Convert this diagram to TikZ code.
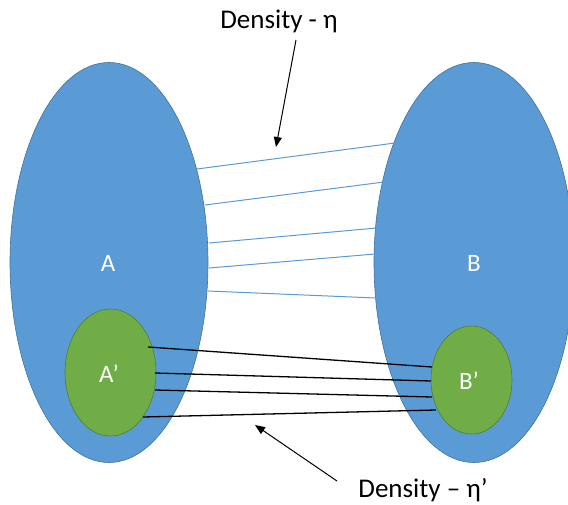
\documentclass[tikz,border=0pt]{standalone}
\usepackage{fontspec}
\setmainfont{Carlito}
\usetikzlibrary{arrows.meta,shapes.geometric}
\definecolor{setblue}{HTML}{5B9BD5}
\definecolor{setblueedge}{HTML}{41719C}
\definecolor{subgreen}{HTML}{70AD47}
\definecolor{subgreenedge}{HTML}{507E32}
\tikzset{
  bigset/.style={ellipse, fill=setblue, draw=setblueedge, line width=0.6pt, minimum width=198pt, minimum height=400pt, inner sep=0pt},
  subset/.style={ellipse, fill=subgreen, draw=subgreenedge, line width=0.6pt, inner sep=0pt},
  setlabel/.style={text=white, font=\fontsize{25}{28}\selectfont, inner sep=0pt},
  caption/.style={font=\fontsize{27}{30}\selectfont, inner sep=0pt, anchor=base},
  bluelink/.style={draw=setblue, line width=1pt},
  blacklink/.style={draw=black, line width=1.3pt},
  pointer/.style={draw=black, line width=1pt, -{Triangle[length=10pt,width=8pt]}},
}
\begin{document}
\begin{tikzpicture}[x=1pt,y=-1pt]
\useasboundingbox (0,0) rectangle (568,504);
\node[bigset] (A) at (109,262.5) {};
\node[bigset, minimum width=200pt] (B) at (474,262.5) {};
\node[subset, minimum width=91pt, minimum height=127pt] (Ap) at (110.5,372.5) {};
\node[subset, minimum width=81pt, minimum height=108pt] (Bp) at (471.5,380) {};
\node[setlabel] (Alab) at (108,263) {A};
\node[setlabel] (Blab) at (474,263) {B};
\node[setlabel] (Aplab) at (109,374) {A’};
\node[setlabel] (Bplab) at (469,381) {B’};
% blue links
\coordinate (a1) at (197,169); \coordinate (b1) at (395,143);
\coordinate (a2) at (205,205); \coordinate (b2) at (384,182);
\coordinate (a3) at (209,243); \coordinate (b3) at (377,228);
\coordinate (a4) at (209,268); \coordinate (b4) at (375,254);
\coordinate (a5) at (208,291); \coordinate (b5) at (376,298);
\foreach \i in {1,...,5} \draw[bluelink] (a\i) -- (b\i);
% black links
\coordinate (c1) at (148,347); \coordinate (d1) at (432,367);
\coordinate (c2) at (155,373); \coordinate (d2) at (431,381);
\coordinate (c3) at (155,390); \coordinate (d3) at (432,397);
\coordinate (c4) at (143,417); \coordinate (d4) at (436,410);
\foreach \i in {1,...,4} \draw[blacklink] (c\i) -- (d\i);
% captions
\node[caption] (top) at (279,28) {Density - η};
\node[caption] (bot) at (423,497) {Density – η’};
\coordinate (t1) at (296,40); \coordinate (t2) at (276,147);
\coordinate (s1) at (337,481); \coordinate (s2) at (255,425);
\draw[pointer] (t1) -- (t2);
\draw[pointer] (s1) -- (s2);
\end{tikzpicture}
\end{document}
